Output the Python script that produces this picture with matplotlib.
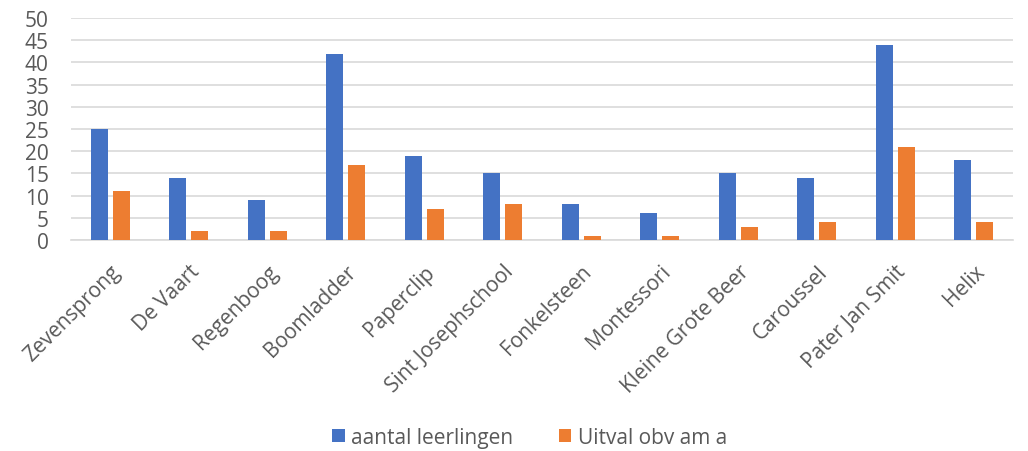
import matplotlib
matplotlib.use("Agg")
import matplotlib.pyplot as plt
import numpy as np

categories = ["Zevensprong", "De Vaart", "Regenboog", "Boomladder", "Paperclip",
              "Sint Josephschool", "Fonkelsteen", "Montessori", "Kleine Grote Beer",
              "Caroussel", "Pater Jan Smit", "Helix"]
aantal = [25, 14, 9, 42, 19, 15, 8, 6, 15, 14, 44, 18]
uitval = [11, 2, 2, 17, 7, 8, 1, 1, 3, 4, 21, 4]
series_names = ["aantal leerlingen", "Uitval obv am a"]
yticks = list(range(0, 51, 5))

plt.rcParams['font.family'] = ['Open Sans', 'DejaVu Sans']
txt = '#595959'

fig = plt.figure(figsize=(10.28, 4.52), dpi=100)
ax = fig.add_axes([71/1028, 1 - 241/452, 942/1028, 222/452])

x = np.arange(len(categories))
w = 0.217
ax.bar(x - 0.14, aantal, w, color='#4472C4', label=series_names[0], zorder=3)
ax.bar(x + 0.14, uitval, w, color='#ED7D31', label=series_names[1], zorder=3)

ax.set_xlim(-0.5, len(categories) - 0.5)
ax.set_ylim(0, 50)
ax.set_yticks(yticks)
ax.yaxis.grid(True, color='#D9D9D9', linewidth=1.2, zorder=0)
for s in ['top', 'right', 'left']:
    ax.spines[s].set_visible(False)
ax.spines['bottom'].set_color('#D9D9D9')
ax.spines['bottom'].set_linewidth(1.2)
ax.tick_params(axis='both', length=0, labelsize=15, colors=txt)
ax.tick_params(axis='y', pad=16)
ax.set_xticks(x)
ax.set_xticklabels(categories, rotation=45, ha='right', rotation_mode='anchor')
ax.tick_params(axis='x', pad=15)

fig.legend(loc='lower center', bbox_to_anchor=(0.515, -0.035), ncol=2, frameon=False,
           fontsize=15, labelcolor=txt, handlelength=0.6, handleheight=0.6,
           handletextpad=0.3, columnspacing=2.2)

fig.savefig('out.png', dpi=100)
